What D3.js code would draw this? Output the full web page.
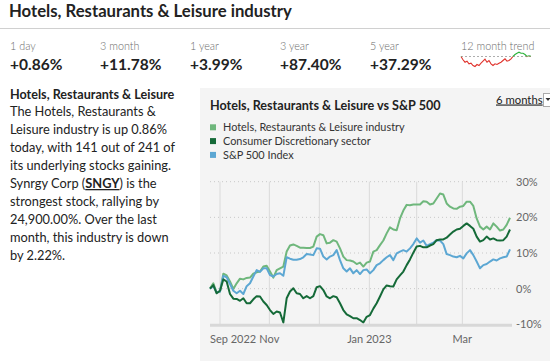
<!DOCTYPE html>
<html><head><meta charset="utf-8">
<script src="https://cdn.jsdelivr.net/npm/d3@7"></script>
<style>
body{margin:0;background:#fff}
svg{display:block}
text{font-family:Lato,"Open Sans",sans-serif}
</style>
</head><body>
<svg id="c" width="550" height="361"></svg>
<script>
// ---------- data ----------
const pageTitle = "Hotels, Restaurants & Leisure industry";
const statLabels = ["1 day", "3 month", "1 year", "3 year", "5 year"];
const statValues = ["+0.86%", "+11.78%", "+3.99%", "+87.40%", "+37.29%"];
const trendLabel = "12 month trend";
const trend12m = [0,-3.3,-5.7,-4.7,-7.3,-6.7,-9,-10,-8,-9,-6.7,-4.7,-2.7,-5.7,-4,-7.3,-9,-7.3,-8,-6.7,-5.7,-4,-2.3,-4.7,-4,-2.3,0,2,3.3,4.3,3.3,3.3,2,0,0.7,0.3];

const sideHeading = "Hotels, Restaurants & Leisure";
const sideLines = [
  "The Hotels, Restaurants &",
  "Leisure industry is up 0.86%",
  "today, with 141 out of 241 of",
  "its underlying stocks gaining.",
  "Synrgy Corp (|SNGY|) is the",
  "strongest stock, rallying by",
  "24,900.00%. Over the last",
  "month, this industry is down",
  "by 2.22%."
];

const chartTitle = "Hotels, Restaurants & Leisure vs S&P 500";
const periodLabel = "6 months";
const seriesNames = ["Hotels, Restaurants & Leisure industry", "Consumer Discretionary sector", "S&P 500 Index"];

// % change since start, one value per sample (~1.4 trading days)
const hotels = [0,1.5,-1.1,-0.8,4.2,3.7,2.0,-0.1,1.5,2.8,2.6,3.0,3.1,4.2,4.6,4.8,6.2,6.4,4.8,3.1,5.2,5.7,6.2,10.4,12.1,12.4,12.0,11.5,11.5,11.4,11.4,11.8,14.6,15.3,15.0,12.7,12.9,13.6,13.2,11.3,9.0,8.0,7.9,7.6,6.9,7.3,6.2,7.3,7.6,10.4,10.8,12.2,13.5,15.5,17.2,16.6,16.4,19.7,21.9,23.5,23.4,23.6,23.6,23.6,24.5,24.4,23.6,23.9,25.3,26.7,26.4,23.9,23.0,22.5,22.4,23.0,23.2,24.4,24.4,23.2,19.7,17.4,16.6,17.4,16.6,18.3,17.4,16.3,16.6,17.9,19.9];
const consumer = [0,1.0,-1.3,-0.6,2.6,2.0,-1.5,-2.8,-2.9,-3.4,-2.7,-4.1,-4.1,-3.0,-2.1,-2.2,-3.6,-4.6,-6.0,-7.1,-6.4,-6.7,-9.5,-2.7,-0.8,0.1,-1.3,-1.5,-2.7,-2.1,-2.7,-2.1,0.4,0.7,-0.4,-2.2,-2.7,-2.1,-2.4,-4.1,-6.0,-7.2,-7.7,-8.3,-8.3,-8.8,-9.5,-7.9,-7.4,-5.6,-4.1,-2.2,-0.2,0.9,0.7,0.6,2.6,3.7,4.8,6.6,8.2,10.1,11.8,12.0,11.6,11.6,12.1,12.5,13.6,13.8,13.8,14.3,15.2,16.0,16.6,16.8,17.6,18.3,17.6,16.8,14.6,13.2,13.6,14.6,13.8,14.1,13.6,13.5,13.6,14.6,16.6];
const sp500 = [0,0.7,-1.1,-0.8,3.6,3.2,1.3,-0.6,-1.3,-0.6,-1.5,0.7,1.5,3.4,5.2,4.7,5.7,5.7,3.8,3.4,4.1,4.3,3.6,8.8,8.4,8.1,8.1,8.3,8.8,9.7,9.6,9.4,11.3,11.2,9.0,8.2,9.0,9.4,10.8,8.0,5.7,4.8,5.7,4.3,5.2,4.1,5.2,5.4,4.3,5.2,6.6,7.1,8.0,8.8,9.4,8.0,9.9,10.4,10.8,10.4,11.3,12.5,14.1,12.9,13.5,12.0,12.5,12.9,13.6,13.5,12.5,9.7,9.4,9.0,8.8,9.2,8.5,9.9,10.8,9.4,7.6,5.7,6.6,6.9,7.6,8.2,7.9,8.5,8.8,9.0,11.0];

const yTicks = [-10, 0, 10, 20, 30];
// sample index at which each month begins (Oct, Nov, Dec, Jan, Feb, Mar)
const monthStarts = [3, 17.8, 32.8, 47.8, 62, 75.7];
const xLabels = ["Sep 2022", "Nov", "Jan 2023", "Mar"];
const xLabelAt = [0, 17.8, 47.8, 75.7];

const colors = ["#6fb77c", "#156a38", "#5ca7d3"];

// ---------- drawing ----------
const svg = d3.select("#c");
svg.append("rect").attr("width", 550).attr("height", 361).attr("fill", "#fff");

// header
svg.append("text").attr("x", 9).attr("y", 17).attr("font-size", 16.7).attr("font-weight", 700)
  .attr("fill", "#222").text(pageTitle);
svg.append("line").attr("x1", 0).attr("x2", 550).attr("y1", 28.5).attr("y2", 28.5)
  .attr("stroke", "#d0d0d0");

const statX = d3.scalePoint().domain(d3.range(6)).range([10, 460]);
statLabels.forEach((l, i) => {
  svg.append("text").attr("x", statX(i)).attr("y", 50).attr("font-size", 10.8)
    .attr("fill", "#6b6b6b").attr("font-weight", 300).text(l);
  svg.append("text").attr("x", statX(i)).attr("y", 70).attr("font-size", 15.5)
    .attr("font-weight", 700).attr("fill", "#222").text(statValues[i]);
});
svg.append("text").attr("x", statX(5) + 1).attr("y", 50).attr("font-size", 10.8)
  .attr("fill", "#6b6b6b").attr("font-weight", 300).text(trendLabel);

// sparkline
const sx = d3.scaleLinear().domain([0, trend12m.length - 1]).range([461, 531]);
const sy = d3.scaleLinear().domain([-10, 5]).range([66.5, 51.5]);
svg.append("line").attr("x1", 461).attr("x2", 531).attr("y1", sy(0)).attr("y2", sy(0))
  .attr("stroke", "#999").attr("stroke-dasharray", "2,2").attr("stroke-width", 0.8);
const defs = svg.append("defs");
defs.append("clipPath").attr("id", "above").append("rect")
  .attr("x", 455).attr("y", 40).attr("width", 90).attr("height", sy(0) - 40);
defs.append("clipPath").attr("id", "below").append("rect")
  .attr("x", 455).attr("y", sy(0)).attr("width", 90).attr("height", 30);
const sline = d3.line().x((d, i) => sx(i)).y(d => sy(d));
svg.append("path").datum(trend12m).attr("d", sline).attr("fill", "none")
  .attr("stroke", "#e0322c").attr("stroke-width", 1.1).attr("clip-path", "url(#below)");
svg.append("path").datum(trend12m).attr("d", sline).attr("fill", "none")
  .attr("stroke", "#2bb33a").attr("stroke-width", 1.1).attr("clip-path", "url(#above)");

// side text
svg.append("text").attr("x", 10).attr("y", 98.5).attr("font-size", 12.6).attr("font-weight", 700)
  .attr("fill", "#222").text(sideHeading);
sideLines.forEach((ln, i) => {
  const t = svg.append("text").attr("x", 10).attr("y", 116.4 + i * 17.9)
    .attr("font-size", 12.8).attr("fill", "#222");
  ln.split("|").forEach((part, j) => {
    const ts = t.append("tspan").text(part);
    if (j === 1) ts.attr("font-weight", 700).attr("text-decoration", "underline");
  });
});

// chart panel
svg.append("rect").attr("x", 200).attr("y", 88).attr("width", 350).attr("height", 273).attr("fill", "#f4f4f4");
svg.append("text").attr("x", 210).attr("y", 110).attr("font-size", 12.6).attr("font-weight", 700)
  .attr("fill", "#222").text(chartTitle);
svg.append("text").attr("x", 496).attr("y", 103.5).attr("font-size", 11.3).attr("fill", "#222")
  .attr("text-decoration", "underline").text(periodLabel);
svg.append("rect").attr("x", 543.5).attr("y", 93.5).attr("width", 10).attr("height", 13)
  .attr("fill", "#fff").attr("stroke", "#aaa");
svg.append("path").attr("d", "M545.5,98 L550.5,98 L548,101 Z").attr("fill", "#333");

seriesNames.forEach((n, i) => {
  svg.append("rect").attr("x", 210).attr("y", 124.3 + i * 13.8).attr("width", 6).attr("height", 6)
    .attr("fill", colors[i]);
  svg.append("text").attr("x", 223).attr("y", 131 + i * 13.8).attr("font-size", 10.9)
    .attr("fill", "#333").text(n);
});

// plot
const x = d3.scaleLinear().domain([0, hotels.length - 1]).range([210, 510]);
const y = d3.scaleLinear().domain([-10, 30]).range([324.3, 181.7]);

svg.append("g").selectAll("line").data(yTicks.filter(d => d > -10)).join("line")
  .attr("x1", 210).attr("x2", 510).attr("y1", d => y(d)).attr("y2", d => y(d))
  .attr("stroke", "#c8c8c8").attr("stroke-dasharray", "1,3");
svg.append("g").selectAll("line").data(monthStarts).join("line")
  .attr("x1", d => x(d)).attr("x2", d => x(d)).attr("y1", y(30)).attr("y2", y(-10))
  .attr("stroke", "#dadada");

const yAxis = svg.append("g").attr("transform", "translate(510,0)")
  .call(d3.axisRight(y).tickValues(yTicks).tickSize(0).tickPadding(6).tickFormat(d => d + "%"));
yAxis.select(".domain").remove();
yAxis.selectAll("text").attr("font-family", "Liberation Sans, Arial, sans-serif")
  .attr("font-size", 11).attr("fill", "#666");

const line = d3.line().x((d, i) => x(i)).y(d => y(d));
[hotels, sp500, consumer].forEach((s) => {
  const ci = s === hotels ? 0 : s === consumer ? 1 : 2;
  svg.append("path").datum(s).attr("d", line).attr("fill", "none")
    .attr("stroke", colors[ci]).attr("stroke-width", 2).attr("stroke-linejoin", "round");
});

svg.append("line").attr("x1", 210).attr("x2", 512).attr("y1", 325.3).attr("y2", 325.3)
  .attr("stroke", "#d8d8d8").attr("stroke-width", 3);

xLabels.forEach((l, i) => {
  svg.append("text").attr("x", x(xLabelAt[i])).attr("y", 342.5)
    .attr("text-anchor", i === 0 ? "start" : "middle")
    .attr("font-family", "Liberation Sans, Arial, sans-serif").attr("font-size", 11)
    .attr("fill", "#666").text(l);
});
</script>
</body></html>
